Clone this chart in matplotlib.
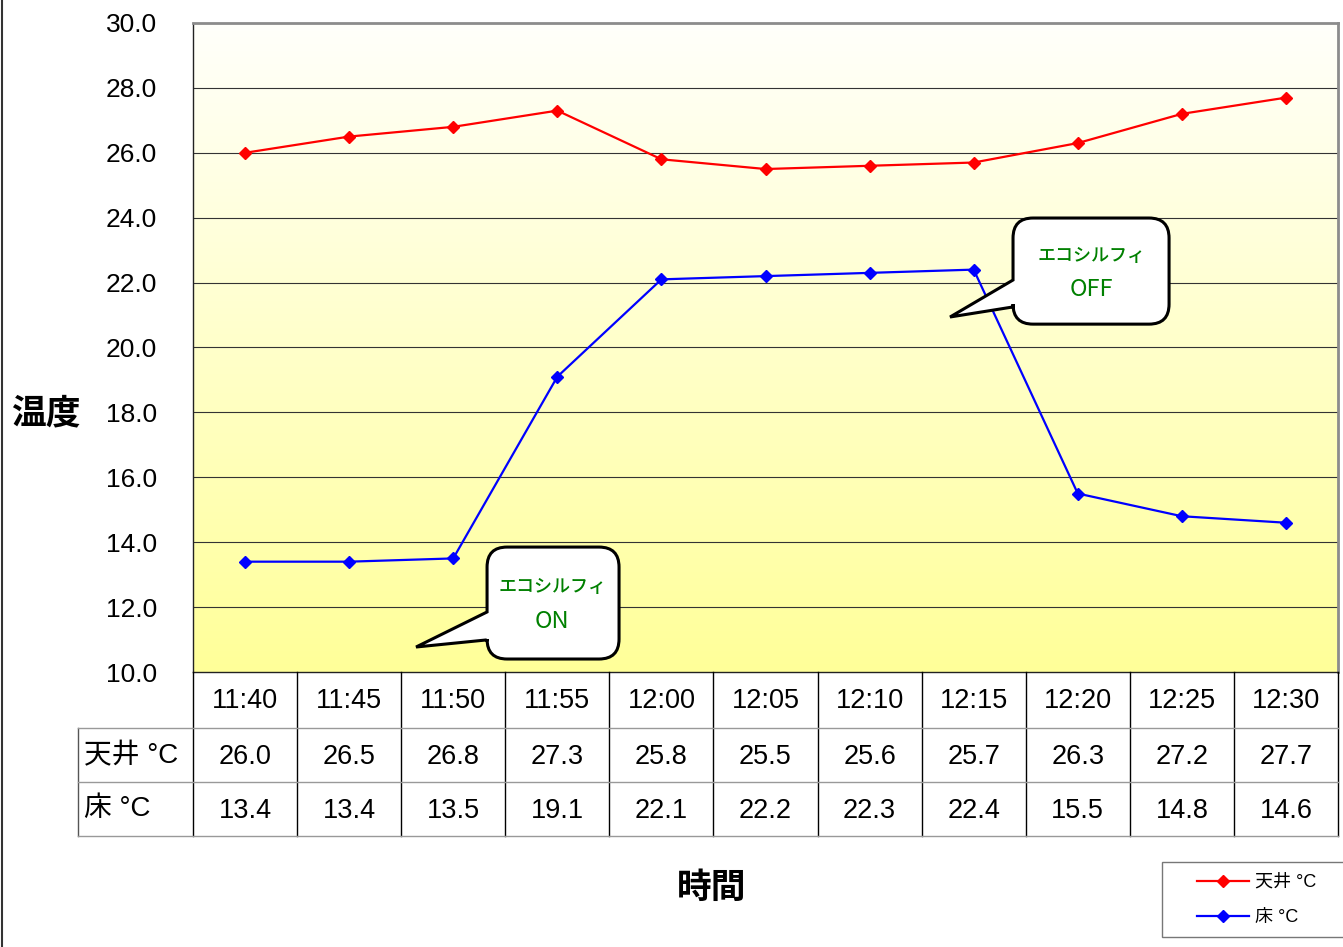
import numpy as np
import matplotlib
matplotlib.use("Agg")
import matplotlib.pyplot as plt
from matplotlib.path import Path
from matplotlib.patches import PathPatch, Rectangle
from matplotlib.transforms import IdentityTransform, blended_transform_factory
from matplotlib.lines import Line2D

plt.rcParams['font.family'] = ['Liberation Sans', 'Noto Sans CJK JP', 'DejaVu Sans']

times = ["11:40", "11:45", "11:50", "11:55", "12:00", "12:05",
         "12:10", "12:15", "12:20", "12:25", "12:30"]
ceiling = [26.0, 26.5, 26.8, 27.3, 25.8, 25.5, 25.6, 25.7, 26.3, 27.2, 27.7]
floor_ = [13.4, 13.4, 13.5, 19.1, 22.1, 22.2, 22.3, 22.4, 15.5, 14.8, 14.6]
series_names = ["天井 °C", "床 °C"]
yticks = np.arange(10, 30.1, 2.0)

W, H = 1343, 947
fig = plt.figure(figsize=(W / 100, H / 100), dpi=100)
fig.patch.set_facecolor("white")

def fx(px):
    return px / W

def fy(py):
    return 1 - py / H

L, R, T, B = 193, 1338, 23, 672
ax = fig.add_axes([fx(L), fy(B), fx(R) - fx(L), fy(T) - fy(B)])
n = len(times)
x = np.arange(n)
ax.set_xlim(-0.5, n - 0.5)
ax.set_ylim(10, 30)

# gradient background
grad = np.linspace(0, 1, 256).reshape(-1, 1)
top = np.array([1.0, 1.0, 0.985])
bot = np.array([1.0, 1.0, 0.60])
img = top[None, None, :] * (1 - grad[..., None]) + bot[None, None, :] * grad[..., None]
ax.imshow(img, extent=[0, 1, 0, 1], transform=ax.transAxes, aspect='auto', zorder=0)

for yv in yticks[1:-1]:
    ax.axhline(yv, color="#333333", lw=0.8, zorder=1)

ax.plot(x, ceiling, color="#FF0000", lw=1.6, marker='D', ms=6.5, zorder=3, label=series_names[0])
ax.plot(x, floor_, color="#0000FF", lw=1.6, marker='D', ms=6.5, zorder=3, label=series_names[1])

ax.set_yticks(yticks)
ax.set_yticklabels([f"{v:.1f}" for v in yticks], fontsize=19)
ax.tick_params(axis='y', length=0, pad=26)
ax.set_xticks([])
for s in ["top", "right"]:
    ax.spines[s].set_color("#8c8c8c")
    ax.spines[s].set_linewidth(2)
ax.spines["left"].set_color("#222222")
ax.spines["left"].set_linewidth(1)
ax.spines["bottom"].set_color("#222222")
ax.spines["bottom"].set_linewidth(1)

# data table below the axes
tb = blended_transform_factory(ax.transData, fig.transFigure)
rows_px = [672, 728, 782, 836]
lab_left = 78
bounds = np.arange(n + 1) - 0.5
for bx in bounds:
    fig.add_artist(Line2D([bx, bx], [fy(672), fy(836)], transform=tb, color="black", lw=1))
fig.add_artist(Line2D([fx(lab_left), fx(lab_left)], [fy(728), fy(836)], transform=fig.transFigure, color="#555555", lw=1))
for ry in rows_px[1:]:
    fig.add_artist(Line2D([fx(lab_left), fx(R)], [fy(ry), fy(ry)], transform=fig.transFigure, color="#999999", lw=1))
for i, t in enumerate(times):
    fig.text(i, fy(701), t, transform=tb, ha='center', va='center', fontsize=19.5)
    fig.text(i, fy(757), f"{ceiling[i]:.1f}", transform=tb, ha='center', va='center', fontsize=19.5)
    fig.text(i, fy(811), f"{floor_[i]:.1f}", transform=tb, ha='center', va='center', fontsize=19.5)
fig.text(fx(84), fy(756), series_names[0], ha='left', va='center', fontsize=20)
fig.text(fx(84), fy(809), series_names[1], ha='left', va='center', fontsize=20)

# axis titles
fig.text(fx(46), fy(414), "温度", ha='center', va='center', fontsize=25, fontweight='bold')
fig.text(fx(712), fy(888), "時間", ha='center', va='center', fontsize=25, fontweight='bold')

# left border of chart area
fig.add_artist(Line2D([fx(2), fx(2)], [0, 1], transform=fig.transFigure, color="#333333", lw=1.5))

# callouts
def callout(x0, x1, ytop, ybot, tail_top, tail_bot, tip, r=20):
    tr = ax.transData
    X0, Yt = tr.transform((x0, ytop))
    X1, Yb = tr.transform((x1, ybot))
    _, Tt = tr.transform((x0, tail_top))
    _, Tb = tr.transform((x0, tail_bot))
    TX, TY = tr.transform(tip)
    verts = [
        (X0 + r, Yt), (X1 - r, Yt), (X1, Yt), (X1, Yt - r),
        (X1, Yb + r), (X1, Yb), (X1 - r, Yb),
        (X0 + r, Yb), (X0, Yb), (X0, Yb + r),
        (X0, Tb), (TX, TY), (X0, Tt),
        (X0, Yt - r), (X0, Yt), (X0 + r, Yt), (X0 + r, Yt)]
    codes = [Path.MOVETO, Path.LINETO, Path.CURVE3, Path.CURVE3,
             Path.LINETO, Path.CURVE3, Path.CURVE3,
             Path.LINETO, Path.CURVE3, Path.CURVE3,
             Path.LINETO, Path.LINETO, Path.LINETO,
             Path.LINETO, Path.CURVE3, Path.CURVE3, Path.CLOSEPOLY]
    p = PathPatch(Path(verts, codes), facecolor="white", edgecolor="black",
                  lw=2.2, transform=IdentityTransform(), zorder=5, joinstyle='miter',
                  clip_on=False)
    ax.add_artist(p)

callout(2.325, 3.593, 13.85, 10.40, 11.85, 10.99, (1.643, 10.77))
callout(7.378, 8.877, 23.99, 20.72, 22.08, 21.25, (6.773, 20.94))
green = "#008000"
for cx, y1, y2, word in [(2.95, 12.62, 11.55, "ON"), (8.128, 22.82, 21.78, "OFF")]:
    ax.text(cx, y1, "エコシルフィ", color=green, fontsize=13, ha='center', va='center', zorder=6,
            family=['Noto Sans CJK JP'], fontweight='medium')
    ax.text(cx, y2, word, color=green, fontsize=17, ha='center', va='center', zorder=6,
            family=['Noto Sans CJK JP'])

# legend
fig.add_artist(Rectangle((fx(1162), fy(937)), fx(1345) - fx(1162), fy(862) - fy(937),
                         transform=fig.transFigure, facecolor="white", edgecolor="#777777", lw=1))
h, l = ax.get_legend_handles_labels()
leg = fig.legend(h, l, loc='upper left', bbox_to_anchor=(fx(1197), fy(874)),
                 fontsize=13, frameon=False, handlelength=2.9, handletextpad=0.3,
                 borderpad=0, labelspacing=1.0, borderaxespad=0)

fig.savefig("out.png", dpi=100)
